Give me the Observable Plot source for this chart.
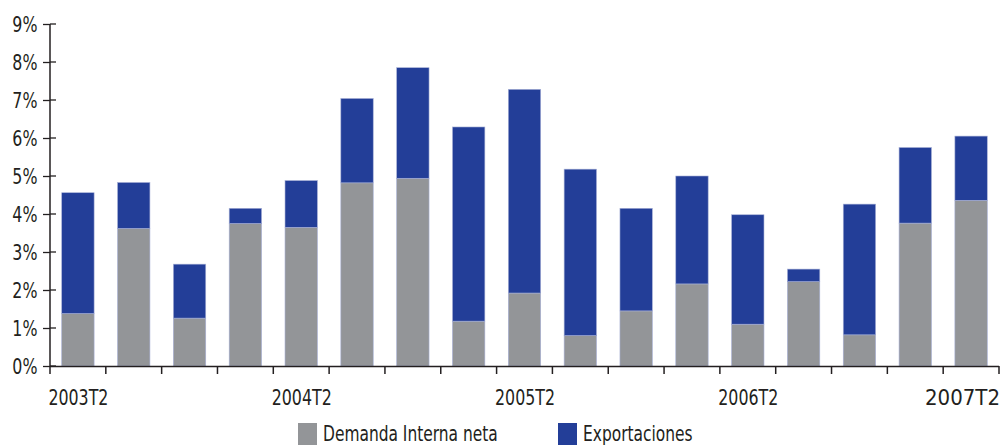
<!DOCTYPE html>
<html><head><meta charset="utf-8">
<script src="https://cdn.jsdelivr.net/npm/d3@7"></script>
<script src="https://cdn.jsdelivr.net/npm/@observablehq/plot@0.6"></script>
<style>
html,body{margin:0;padding:0;background:#fff;overflow:hidden;}
body{width:1002px;height:445px;position:relative;font-family:"Liberation Sans Narrow","DejaVu Sans Condensed",sans-serif;color:#231f20;}
#chart svg{display:block;}
.lg{position:absolute;top:423px;font-size:22px;line-height:22px;display:flex;align-items:flex-start;white-space:nowrap;}
.sw{width:19px;height:22px;margin-right:6px;flex:none;}
.lt{display:inline-block;transform:scaleX(0.78);transform-origin:0 0;}
</style></head><body>
<div id="chart"></div>
<div class="lg" style="left:298px"><div class="sw" id="sw0"></div><span class="lt" id="lb0"></span></div>
<div class="lg" style="left:558px"><div class="sw" id="sw1"></div><span class="lt" id="lb1"></span></div>
<script>
const quarters = ["2003T2","2003T3","2003T4","2004T1","2004T2","2004T3","2004T4","2005T1","2005T2","2005T3","2005T4","2006T1","2006T2","2006T3","2006T4","2007T1","2007T2"];
const demandaInterna = [1.38,3.62,1.26,3.75,3.65,4.82,4.94,1.18,1.92,0.80,1.45,2.16,1.10,2.22,0.82,3.76,4.36];
const exportaciones = [3.18,1.21,1.42,0.40,1.23,2.22,2.91,5.11,5.36,4.38,2.70,2.84,2.88,0.33,3.44,1.99,1.69];
const seriesNames = ["Demanda Interna neta","Exportaciones"];
const seriesColors = ["#939598","#233e98"];
const yTicks = [0,1,2,3,4,5,6,7,8,9];
const xLabels = ["2003T2","2004T2","2005T2","2006T2","2007T2"];

const rows = [
  ...quarters.map((q,i)=>({quarter:q, serie:seriesNames[0], value:demandaInterna[i]})),
  ...quarters.map((q,i)=>({quarter:q, serie:seriesNames[1], value:exportaciones[i]}))
];
const ink = "#231f20";
const W = 1002;
const plot = Plot.plot({
  width:W, height:415,
  marginTop:24, marginBottom:49, marginLeft:50, marginRight:3,
  style:{fontFamily:'"Liberation Sans Narrow","DejaVu Sans Condensed",sans-serif', fontSize:"22px", color:ink, background:"white", overflow:"visible"},
  x:{domain:quarters, paddingInner:0.42, paddingOuter:0.21, align:0.5, round:false, label:null},
  y:{domain:[0,9], label:null},
  color:{domain:seriesNames, range:seriesColors},
  marks:[
    Plot.barY(rows, {x:"quarter", y:"value", fill:"serie", stroke:"#a7b0d6", strokeWidth:0.6}),
    Plot.axisY({ticks:yTicks, tickFormat:d=>d+"%", tickSize:7, tickPadding:6, label:null, stroke:ink, strokeWidth:1.3}),
    Plot.axisX({ticks:xLabels, tickSize:0, tickPadding:23, label:null}),
    Plot.ruleY([0], {stroke:ink, strokeWidth:1.5})
  ]
});
document.getElementById("chart").appendChild(plot);

// condense the text to imitate the narrow typeface of the original;
// a label that would run past the right edge is right-aligned inside it instead
const svgLeft = plot.getBoundingClientRect().left;
d3.select(plot).selectAll("text").each(function(){
  const r = this.getBoundingClientRect();
  if (r.right - svgLeft > W - 2) {
    const c = (r.left + r.right)/2 - svgLeft;
    this.setAttribute("text-anchor", "end");
    this.setAttribute("dx", (W - 2) - c);
    return;
  }
  const len = this.getComputedTextLength();
  if (len > 0) { this.setAttribute("textLength", len*0.8); this.setAttribute("lengthAdjust","spacingAndGlyphs"); }
});

// axis decorations using the plot's own scales
const xs = plot.scale("x"), ys = plot.scale("y");
const gap = xs.step - xs.bandwidth;
const bounds = quarters.map(q => xs.apply(q) - gap/2);
bounds.push(xs.apply(quarters[quarters.length-1]) + xs.bandwidth + gap/2);
const y0 = ys.apply(0), yTop = ys.apply(9);
const g = d3.select(plot).append("g").attr("stroke", ink).attr("stroke-width", 1.5);
g.selectAll("line.bt").data(bounds).join("line").attr("class","bt")
  .attr("x1", d=>d).attr("x2", d=>d).attr("y1", y0).attr("y2", y0+8);
g.append("line").attr("x1", bounds[0]).attr("x2", bounds[0]).attr("y1", yTop).attr("y2", y0);
g.selectAll("line.yt").data(yTicks).join("line").attr("class","yt")
  .attr("stroke-width",1.3)
  .attr("x1", bounds[0]).attr("x2", bounds[0]+6).attr("y1", d=>ys.apply(d)).attr("y2", d=>ys.apply(d));

seriesNames.forEach((s,i)=>{
  document.getElementById("sw"+i).style.background = seriesColors[i];
  document.getElementById("lb"+i).textContent = s;
});
</script>
</body></html>
